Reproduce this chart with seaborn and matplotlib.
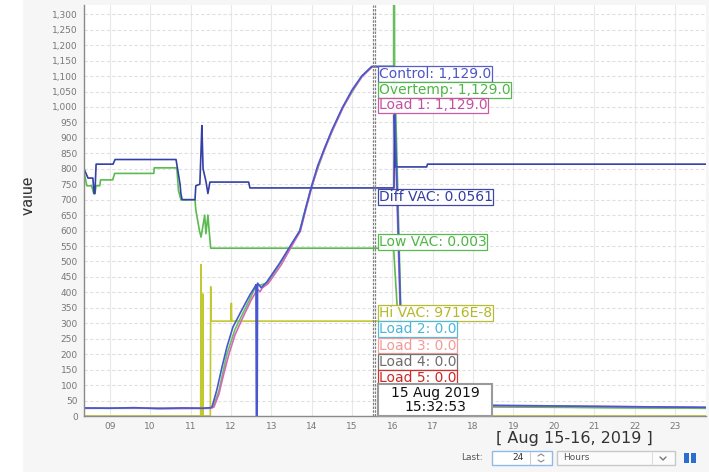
import numpy as np
import pandas as pd
import matplotlib
matplotlib.use('Agg')
import matplotlib.pyplot as plt
from matplotlib.patches import Rectangle
from matplotlib.ticker import FuncFormatter
import seaborn as sns

# series data (hours of day, value)
t_control = [8.36, 9.0, 9.6, 10.2, 10.8, 11.3, 11.5, 11.53, 11.65, 11.78, 11.90, 12.05, 12.27, 12.47,
             12.59, 12.62, 12.63, 12.65, 12.66, 12.75, 12.89, 13.21, 13.53, 13.71, 13.85, 14.0, 14.15,
             14.33, 14.5, 14.77, 15.0, 15.24, 15.49, 16.03, 16.27, 17.5, 19.0, 20.5, 22.0, 23.77]
v_control = [26, 25, 27, 24, 26, 25, 27, 29, 84, 159, 223, 288, 343, 392,
             417, 425, 0, 0, 430, 415, 434, 495, 563, 600, 672, 745, 810,
             870, 925, 1000, 1055, 1100, 1131, 1131, 35, 36, 34, 32, 30, 28]

t_load1 = [8.36, 9.5, 10.5, 11.5, 11.58, 11.7, 11.82, 11.95, 12.1, 12.3, 12.5, 12.66, 12.72, 12.78,
           12.92, 13.25, 13.55, 13.72, 13.86, 14.01, 14.16, 14.34, 14.51, 14.78, 15.01, 15.25, 15.5,
           16.02, 16.26, 18.0, 21.0, 23.77]
v_load1 = [25, 26, 24, 25, 29, 70, 135, 200, 262, 320, 375, 410, 402, 415,
           428, 490, 560, 598, 670, 743, 808, 868, 923, 998, 1053, 1098, 1130,
           1130, 34, 33, 31, 28]

t_over = [8.36, 10.0, 11.5, 11.56, 11.7, 11.9, 12.1, 12.4, 12.62, 12.9, 13.3, 13.7, 14.0, 14.33,
          14.77, 15.24, 15.49, 16.04, 16.05, 16.055, 16.27, 20.0, 23.77]
v_over = [25, 25, 25, 30, 80, 200, 280, 360, 420, 430, 510, 598, 744, 869,
          999, 1099, 1131, 1131, 1600, 1131, 33, 29, 25]

t_diff = [8.36, 8.46, 8.58, 8.61, 8.63, 8.66, 9.08, 9.13, 10.64, 10.69, 10.74, 10.76, 10.79, 11.11,
          11.13, 11.23, 11.26, 11.28, 11.31, 11.38, 11.43, 11.48, 12.44, 12.47, 16.04, 16.05, 16.07,
          16.85, 16.87, 23.77]
v_diff = [800, 770, 770, 720, 720, 815, 815, 830, 830, 790, 750, 720, 700, 700,
          745, 750, 860, 940, 800, 760, 720, 757, 757, 738, 738, 975, 806,
          806, 815, 815]

t_low = [8.36, 8.43, 8.55, 8.6, 8.63, 8.66, 8.75, 8.77, 9.07, 9.12, 10.09, 10.1, 10.66, 10.7,
         10.76, 11.11, 11.13, 11.22, 11.26, 11.3, 11.35, 11.38, 11.43, 11.46, 11.5, 16.03, 16.27,
         19.0, 23.77]
v_low = [790, 745, 745, 720, 720, 745, 745, 764, 764, 785, 785, 803, 803, 730,
         700, 700, 667, 600, 579, 610, 650, 590, 650, 600, 543, 543, 32,
         29, 25]

t_hi = [8.36, 11.25, 11.26, 11.27, 11.29, 11.30, 11.31, 11.49, 11.50, 11.51, 12.0, 12.01, 12.02,
        16.03, 16.04, 23.77]
v_hi = [0, 0, 490, 0, 0, 395, 0, 0, 418, 307, 307, 365, 307,
        307, 0, 0]

cursor_time = 15.548
labels = ['Control: 1,129.0', 'Overtemp: 1,129.0', 'Load 1: 1,129.0', 'Diff VAC: 0.0561',
          'Low VAC: 0.003', 'Hi VAC: 9716E-8', 'Load 2: 0.0', 'Load 3: 0.0', 'Load 4: 0.0',
          'Load 5: 0.0']
label_y = [1107, 1055, 1005, 709, 563, 333, 282, 228, 175, 122]
label_colors = ['#4f55c4', '#4fb546', '#c4529f', '#343ea0', '#4fb546', '#b4b82a',
                '#4cb6d6', '#f29a9a', '#6e6e6e', '#d02828']

colors = {'Hi VAC': '#c3c730', 'Low VAC': '#5bbb50', 'Overtemp': '#63c05a',
          'Load 1': '#d668b8', 'Diff VAC': '#3440a6', 'Control': '#4657cf'}

frames = []
for name, t, v in [('Hi VAC', t_hi, v_hi), ('Low VAC', t_low, v_low), ('Overtemp', t_over, v_over),
                   ('Load 1', t_load1, v_load1), ('Diff VAC', t_diff, v_diff),
                   ('Control', t_control, v_control)]:
    frames.append(pd.DataFrame({'t': t, 'v': v, 'series': name}))
df = pd.concat(frames, ignore_index=True)

sns.set_style('white')
plt.rcParams['font.family'] = ['DejaVu Sans']

fig = plt.figure(figsize=(7.09, 4.72), dpi=100, facecolor='#f6f6f6')
fig.patches.append(Rectangle((0, 0), 22 / 709, 1, transform=fig.transFigure,
                             color='white', zorder=0))
ax = fig.add_axes([84 / 709, 1 - 416 / 472, (706 - 84) / 709, (416 - 5) / 472])
ax.set_facecolor('white')

sns.lineplot(data=df, x='t', y='v', hue='series', hue_order=list(colors.keys()),
             palette=colors, estimator=None, sort=False, legend=False, linewidth=1.2, ax=ax)

ax.set_xlim(8.36, 23.77)
ax.set_ylim(0, 1330)
ax.set_yticks(np.arange(0, 1301, 50))
ax.yaxis.set_major_formatter(FuncFormatter(lambda v, p: f'{int(v):,}'))
ax.set_xticks(range(9, 24))
ax.set_xticklabels([f'{h:02d}' for h in range(9, 24)])
ax.tick_params(axis='both', labelsize=6.5, colors='#777777', length=3, width=0.6, pad=1.5)
ax.yaxis.grid(True, linestyle=(0, (3, 2)), color='#e0e0e0', linewidth=0.8)
ax.xaxis.grid(True, color='#e8e8e8', linewidth=0.8)
ax.set_axisbelow(True)
for s in ['top', 'right']:
    ax.spines[s].set_visible(False)
for s in ['left', 'bottom']:
    ax.spines[s].set_color('#8a8a8a')
    ax.spines[s].set_linewidth(1.0)

ax.set_xlabel('')
ax.set_ylabel('Value', fontsize=11.5, color='#333333',
              family=['Liberation Sans Narrow', 'Roboto'])
ax.yaxis.set_label_coords((36 - 84) / 622, (416 - 196) / 411)

# cursor (double thin line)
ax.axvline(cursor_time - 0.022, color='#808080', linewidth=0.9, linestyle=(0, (2, 1)), zorder=3)
ax.axvline(cursor_time + 0.022, color='#808080', linewidth=0.9, linestyle=(0, (2, 1)), zorder=3)

for txt, y, c in zip(labels, label_y, label_colors):
    ax.text(15.66, y, txt, color=c, fontsize=10, ha='left', va='center', zorder=5,
            bbox=dict(boxstyle='square,pad=0.06', fc='white', ec=c, lw=0.9, alpha=0.95))

fig.text(574 / 709, 1 - 439 / 472, '[ Aug 15-16, 2019 ]', fontsize=11.5, color='#333333',
         ha='center', va='center')

# overlay in pixel coords: date box and bottom controls
ov = fig.add_axes([0, 0, 1, 1], facecolor='none')
ov.set_xlim(0, 709)
ov.set_ylim(472, 0)
ov.axis('off')
ov.add_patch(Rectangle((378, 384), 114, 32, fc='white', ec='#9a9a9a', lw=1.5))
ov.text(435, 400, '15 Aug 2019\n15:32:53', color='#111111', fontsize=10, ha='center',
        va='center', linespacing=1.0)

ov.text(483, 458, 'Last:', fontsize=6.5, color='#555555', ha='right', va='center')
ov.add_patch(Rectangle((492, 451), 60, 14, fc='white', ec='#8fbbe6', lw=1))
ov.text(512, 458, '24', fontsize=6.5, color='#333333', ha='left', va='center')
ov.plot([530, 530], [452, 464], color='#cccccc', lw=0.8)
ov.plot([538, 541, 544], [456, 454, 456], color='#888888', lw=0.8)
ov.plot([538, 541, 544], [460, 462, 460], color='#888888', lw=0.8)
ov.add_patch(Rectangle((557, 451), 118, 14, fc='#fbfbfb', ec='#c8c8c8', lw=1))
ov.text(563, 458, 'Hours', fontsize=6.5, color='#555555', ha='left', va='center')
ov.plot([652, 652], [452, 464], color='#dddddd', lw=0.8)
ov.plot([660, 663, 666], [457, 460, 457], color='#777777', lw=1)
ov.add_patch(Rectangle((684, 453), 5, 10, fc='#2a6fd0', ec='none'))
ov.add_patch(Rectangle((691, 453), 5, 10, fc='#2a6fd0', ec='none'))

fig.savefig('out.png', dpi=100, facecolor=fig.get_facecolor())
